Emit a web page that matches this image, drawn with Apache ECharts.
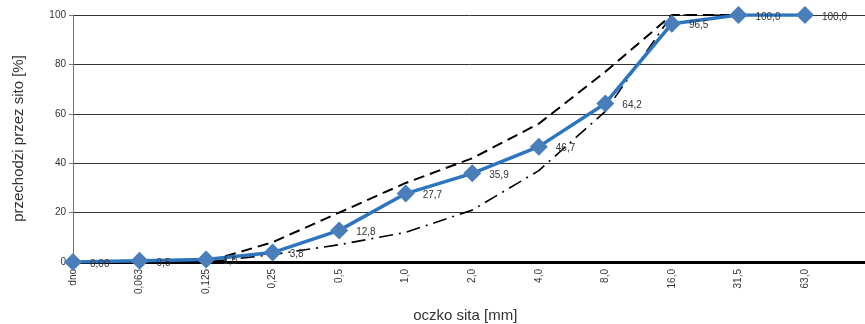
<!DOCTYPE html>
<html>
<head>
<meta charset="utf-8">
<script src="https://cdn.jsdelivr.net/npm/echarts@6/dist/echarts.min.js"></script>
<style>html,body{margin:0;padding:0;background:#fff}#c{width:865px;height:324px}</style>
</head>
<body>
<div id="c"></div>
<script>
var categories = ["dno","0,063","0,125","0,25","0,5","1,0","2,0","4,0","8,0","16,0","31,5","63,0",""];
var passing = [0.0, 0.5, 1.0, 3.8, 12.8, 27.7, 35.9, 46.7, 64.2, 96.5, 100.0, 100.0];
var passingLabels = ["0,00","0,5","1,0","3,8","12,8","27,7","35,9","46,7","64,2","96,5","100,0","100,0"];
var upperLimit = [0, 0, 0, 8, 20, 32, 42, 56, 77, 100, 100, 100];
var lowerLimit = [0, 0, 0, 3, 7, 12, 21, 37, 61, 100, 100, 100];
var yTicks = [0, 20, 40, 60, 80, 100];

var FONT = "Liberation Sans, Arial, sans-serif";
var chart = echarts.init(document.getElementById('c'), null, {renderer: 'canvas'});
chart.setOption({
  animation: false,
  backgroundColor: '#ffffff',
  grid: {left: 73, top: 15, width: 798.5, height: 247, containLabel: false, outerBoundsMode: 'none'},
  xAxis: {
    type: 'category',
    data: categories,
    boundaryGap: false,
    name: 'oczko sita [mm]',
    nameLocation: 'middle',
    nameGap: 46,
    nameTextStyle: {fontFamily: FONT, fontSize: 15, color: '#333', padding: [0, 14, 0, 0]},
    axisLine: {lineStyle: {color: '#000', width: 3}},
    axisTick: {show: false},
    axisLabel: {rotate: 90, fontFamily: FONT, fontSize: 10, color: '#333', margin: 7, interval: 0},
    splitLine: {show: false}
  },
  yAxis: {
    type: 'value',
    min: yTicks[0],
    max: yTicks[yTicks.length - 1],
    interval: 20,
    name: 'przechodzi przez sito [%]',
    nameLocation: 'middle',
    nameGap: 47,
    nameRotate: 90,
    nameTextStyle: {fontFamily: FONT, fontSize: 15, color: '#333'},
    axisLine: {show: true, lineStyle: {color: '#777', width: 1}},
    axisTick: {show: true, length: 4, lineStyle: {color: '#777'}},
    axisLabel: {fontFamily: FONT, fontSize: 10, color: '#333', margin: 7},
    splitLine: {lineStyle: {color: '#333', width: 1}}
  },
  series: [
    {
      name: 'upper', type: 'line', data: upperLimit, symbol: 'none', z: 3,
      lineStyle: {color: '#000', width: 2, type: [11, 6]}
    },
    {
      name: 'lower', type: 'line', data: lowerLimit, symbol: 'none', z: 3,
      lineStyle: {color: '#000', width: 1.6, type: [14, 6, 2, 6]}
    },
    {
      name: 'passing', type: 'line', data: passing, z: 4,
      symbol: 'diamond', symbolSize: 18,
      itemStyle: {color: '#4A7EBB'},
      lineStyle: {color: '#2E75C0', width: 3.5},
      label: {
        show: true, position: 'right', distance: 8,
        fontFamily: FONT, fontSize: 10, color: '#333',
        offset: [0, 2],
        formatter: function (p) { return passingLabels[p.dataIndex]; }
      }
    }
  ]
});
</script>
</body>
</html>
